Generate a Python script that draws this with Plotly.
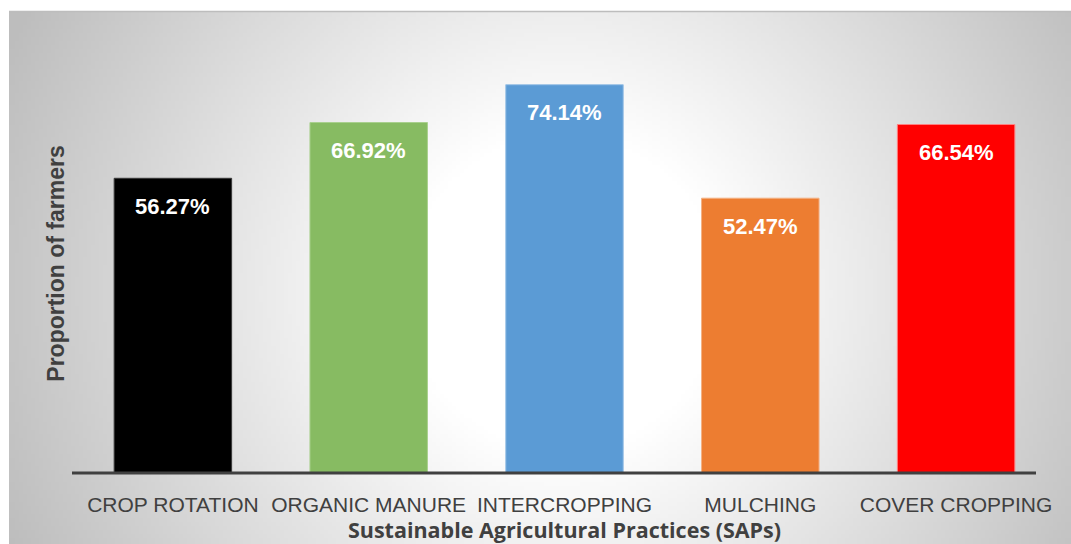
import base64, struct, zlib
import numpy as np
import plotly.graph_objects as go

categories = ["CROP ROTATION", "ORGANIC MANURE", "INTERCROPPING", "MULCHING", "COVER CROPPING"]
values = [56.27, 66.92, 74.14, 52.47, 66.54]
bar_colors = ["#000000", "#87BB62", "#5B9BD5", "#ED7D31", "#FF0000"]
line_colors = ["#3a3a3a", "#a9d08e", "#9dc3e6", "#f4b183", "#ff8080"]
labels = [f"{v:.2f}%" for v in values]

W, H = 1071, 544
ML, MR, MT, MB = 75, 17, 54, 71
PW, PH = W - ML - MR, H - MT - MB


def px_x(px):
    return (px - ML) / PW


def px_y(py):
    return (H - MB - py) / PH


# radial gradient background image (chart area)
BX0, BY0 = 9, 11
BW, BH = W - BX0, H - BY0
sc = 4
gw, gh = BW // sc, BH // sc
yy, xx = np.mgrid[0:gh, 0:gw]
cx, cy = (560 - BX0) / sc, (290 - BY0) / sc
r = np.sqrt((xx - cx) ** 2 + (yy - cy) ** 2) * sc
t = np.clip((r - 160) / (610 - 160), 0, 1)
img = (255 - 66 * t).astype(np.uint8)
raw = b"".join(b"\x00" + img[i].tobytes() for i in range(gh))


def chunk(tag, data):
    c = struct.pack(">I", len(data)) + tag + data
    return c + struct.pack(">I", zlib.crc32(tag + data) & 0xFFFFFFFF)


png = b"\x89PNG\r\n\x1a\n" + chunk(b"IHDR", struct.pack(">IIBBBBB", gw, gh, 8, 0, 0, 0, 0)) \
    + chunk(b"IDAT", zlib.compress(raw, 9)) + chunk(b"IEND", b"")
uri = "data:image/png;base64," + base64.b64encode(png).decode()

fig = go.Figure()
fig.add_trace(go.Bar(
    x=categories, y=values,
    marker=dict(color=bar_colors, line=dict(color=line_colors, width=1)),
    width=0.6, hoverinfo="skip",
))

for c, v, lab in zip(categories, values, labels):
    fig.add_annotation(x=c, y=v, text=f"<b>{lab}</b>", showarrow=False,
                       yanchor="middle", yshift=-28,
                       font=dict(family="Liberation Sans, Arial", size=22, color="white"))

fig.update_layout(
    width=W, height=H,
    margin=dict(l=ML, r=MR, t=MT, b=MB, pad=0),
    paper_bgcolor="white", plot_bgcolor="rgba(0,0,0,0)",
    showlegend=False,
    images=[dict(source=uri, xref="paper", yref="paper", x=px_x(BX0), y=px_y(BY0),
                 sizex=BW / PW, sizey=BH / PH, sizing="stretch", layer="below",
                 xanchor="left", yanchor="top")],
    xaxis=dict(showgrid=False, showline=False, ticks="", ticklabelstandoff=17,
               tickfont=dict(family="Liberation Sans, Arial", size=21, color="#404040"),
               title=dict(text="<b>Sustainable Agricultural Practices (SAPs)</b>",
                          font=dict(family="Open Sans", size=21.5, color="#404040"),
                          standoff=1)),
    yaxis=dict(range=[0, 80], showgrid=False, showline=False, zeroline=False,
               showticklabels=False, ticks="",
               title=dict(text="<b>Proportion of farmers</b>",
                          font=dict(family="Liberation Sans, Arial", size=23, color="#404040"),
                          standoff=2)),
    shapes=[
        dict(type="line", xref="paper", yref="paper", x0=px_x(BX0), x1=px_x(W + 5),
             y0=px_y(BY0 + 0.5), y1=px_y(BY0 + 0.5), line=dict(color="#bdbdbd", width=1.5),
             layer="below"),
        dict(type="line", xref="paper", yref="paper", x0=px_x(72), x1=px_x(1036),
             y0=px_y(473), y1=px_y(473), line=dict(color="#404040", width=3), layer="above"),
    ],
)

fig.write_html("out.html")
